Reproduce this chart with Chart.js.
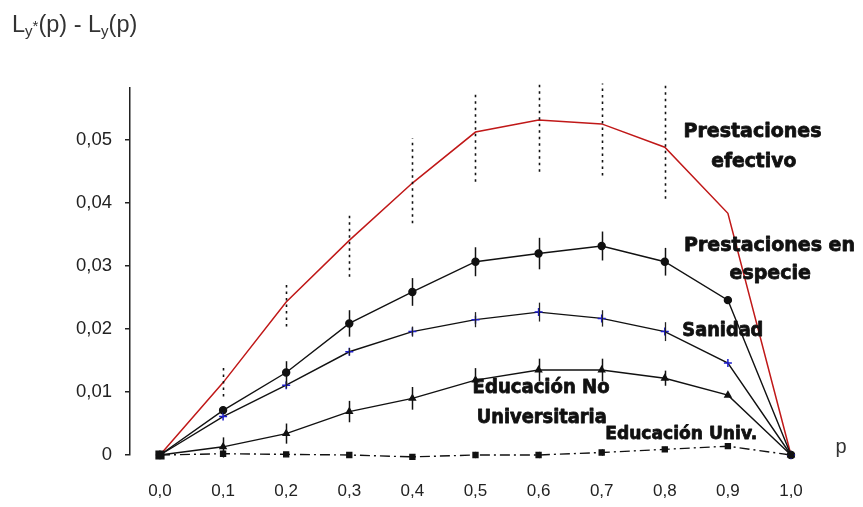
<!DOCTYPE html>
<html>
<head>
<meta charset="utf-8">
<script src="https://cdn.jsdelivr.net/npm/chart.js@4"></script>
<style>
  body { margin: 0; background: #fff; }
  canvas { display: block; }
</style>
</head>
<body>
<canvas id="curvas" width="863" height="507"></canvas>
<script>
// ---------- DATA ----------
const pVals = [0, 0.1, 0.2, 0.3, 0.4, 0.5, 0.6, 0.7, 0.8, 0.9, 1.0];
const yTicks = [0, 0.01, 0.02, 0.03, 0.04, 0.05];

const efectivo = [0, 0.0115, 0.0243, 0.0341, 0.0432, 0.0513, 0.0532, 0.0526, 0.0489, 0.0384, 0];
const efectivoLow = [null, 0.0093, 0.0204, 0.0283, 0.0368, 0.0434, 0.0450, 0.0444, 0.0407, null, null];
const efectivoHigh = [null, 0.0140, 0.0270, 0.0386, 0.0503, 0.0577, 0.0593, 0.0590, 0.0590, null, null];

const especie = [0, 0.0071, 0.0131, 0.0209, 0.0259, 0.0307, 0.0320, 0.0332, 0.0307, 0.0246, 0];
const especieErr = [null, 0.0006, 0.0018, 0.0021, 0.0022, 0.0023, 0.0025, 0.0023, 0.0022, null, null];

const sanidad = [0, 0.0061, 0.0111, 0.0164, 0.0196, 0.0215, 0.0227, 0.0217, 0.0196, 0.0146, 0];
const sanidadErr = [null, null, 0.0005, 0.0006, 0.0008, 0.0012, 0.0015, 0.0013, 0.0015, null, null];

const eduNoUniv = [0, 0.0013, 0.0034, 0.0069, 0.0090, 0.0119, 0.0135, 0.0135, 0.0122, 0.0095, 0];
const eduNoUnivErr = [null, 0.0015, 0.0016, 0.0017, 0.0018, 0.0019, 0.0018, 0.0018, 0.0012, null, null];

const eduUniv = [0, 0.0002, 0.0001, 0, -0.0003, 0, 0, 0.0004, 0.0009, 0.0014, 0];
const eduUnivErr = [null, 0.0006, null, null, 0.0004, 0.0005, 0.0005, 0.0005, 0.0004, null, null];

// ---------- HELPERS ----------
function toPoints(arr) {
  return pVals.map((p, i) => ({ x: p, y: arr[i] }));
}
function fmt(v) {
  return v === 0 ? "0" : v.toFixed(2).replace(".", ",");
}

// vertical error bars drawn through the chart scales
const errorBars = {
  id: "errorBars",
  afterDatasetsDraw(chart, args, opts) {
    const ctx = chart.ctx;
    const xs = chart.scales.x, ys = chart.scales.y;
    ctx.save();
    opts.bars.forEach(b => {
      ctx.strokeStyle = b.color;
      ctx.lineWidth = b.width;
      ctx.setLineDash(b.dash || []);
      pVals.forEach((p, i) => {
        let lo, hi;
        if (b.low) { lo = b.low[i]; hi = b.high[i]; }
        else if (b.err[i] != null) { lo = b.center[i] - b.err[i]; hi = b.center[i] + b.err[i]; }
        if (lo == null || hi == null) return;
        const px = Math.round(xs.getPixelForValue(p)) + 0.5;
        ctx.beginPath();
        ctx.moveTo(px, ys.getPixelForValue(lo));
        ctx.lineTo(px, ys.getPixelForValue(hi));
        ctx.stroke();
      });
    });
    ctx.restore();
  }
};

// series labels + axis titles
const textLabels = {
  id: "textLabels",
  afterDraw(chart, args, opts) {
    const ctx = chart.ctx;
    const xs = chart.scales.x, ys = chart.scales.y;
    ctx.save();
    ctx.fillStyle = "#111";
    ctx.strokeStyle = "#111";
    ctx.lineWidth = 0.8;
    ctx.lineJoin = "round";
    ctx.textAlign = "center";
    ctx.textBaseline = "middle";
    opts.labels.forEach(l => {
      ctx.font = "bold " + l.size + "px 'DejaVu Sans'";
      const px = xs.getPixelForValue(l.x), py = ys.getPixelForValue(l.y);
      ctx.fillText(l.text, px, py, l.maxW);
      ctx.strokeText(l.text, px, py, l.maxW);
    });

    // "p" at end of x axis
    ctx.fillStyle = "#333";
    ctx.font = "20px 'Liberation Sans'";
    ctx.textBaseline = "alphabetic";
    ctx.fillText("p", 841, 453);

    // y axis title: L_{y*}(p) - L_y(p)
    ctx.textAlign = "left";
    let x = 12;
    const base = 32;
    const big = "23.5px 'Liberation Sans'", small = "15px 'Liberation Sans'";
    const part = (t, f, dy) => { ctx.font = f; ctx.fillText(t, x, base + dy); x += ctx.measureText(t).width; };
    part("L", big, 0);
    part("y", small, 4);
    part("*", small, -1);
    part("(p) - L", big, 0);
    part("y", small, 4);
    part("(p)", big, 0);
    ctx.restore();
  }
};

// ---------- CHART ----------
const black = "#111";
const chart = new Chart(document.getElementById("curvas"), {
  type: "line",
  data: {
    datasets: [
      {
        label: "Educación Univ.",
        data: toPoints(eduUniv),
        borderColor: black, borderWidth: 1.4, borderDash: [10, 4, 2, 4],
        pointStyle: "rect",
        pointRadius: pVals.map((p, i) => i === 0 ? 5.5 : 3.5),
        pointBackgroundColor: black, pointBorderColor: black
      },
      {
        label: "Educación No Universitaria",
        data: toPoints(eduNoUniv),
        borderColor: black, borderWidth: 1.4,
        pointStyle: "triangle", pointRadius: 3.5,
        pointBackgroundColor: black, pointBorderColor: black
      },
      {
        label: "Sanidad",
        data: toPoints(sanidad),
        borderColor: black, borderWidth: 1.4,
        pointStyle: "cross", pointRadius: 4, pointBorderWidth: 1.5,
        pointBorderColor: "#1c1ccc"
      },
      {
        label: "Prestaciones en especie",
        data: toPoints(especie),
        borderColor: black, borderWidth: 1.4,
        pointStyle: "circle", pointRadius: 3.5,
        pointBackgroundColor: black, pointBorderColor: black
      },
      {
        label: "Prestaciones efectivo",
        data: toPoints(efectivo),
        borderColor: "#c01818", borderWidth: 1.5,
        pointRadius: 0
      }
    ]
  },
  options: {
    responsive: false,
    animation: false,
    clip: false,
    layout: { padding: { top: 88, right: 13, bottom: 0, left: 0 } },
    plugins: {
      legend: { display: false },
      tooltip: { enabled: false },
      errorBars: {
        bars: [
          { low: efectivoLow, high: efectivoHigh, color: "#111", width: 1.6, dash: [2.5, 4] },
          { center: especie, err: especieErr, color: "#111", width: 1.5 },
          { center: sanidad, err: sanidadErr, color: "#222", width: 1.3 },
          { center: eduNoUniv, err: eduNoUnivErr, color: "#111", width: 1.5 },
          { center: eduUniv, err: eduUnivErr, color: "#111", width: 1.3 }
        ]
      },
      textLabels: {
        labels: [
          { text: "Prestaciones", x: 0.939, y: 0.0513, size: 19, maxW: 140 },
          { text: "efectivo", x: 0.941, y: 0.0465, size: 19, maxW: 85 },
          { text: "Prestaciones en", x: 0.966, y: 0.0332, size: 19, maxW: 174 },
          { text: "especie", x: 0.967, y: 0.0287, size: 19, maxW: 86 },
          { text: "Sanidad", x: 0.892, y: 0.0197, size: 19, maxW: 81 },
          { text: "Educación No", x: 0.604, y: 0.0106, size: 19, maxW: 137 },
          { text: "Universitaria", x: 0.605, y: 0.0059, size: 19, maxW: 130 },
          { text: "Educación Univ.", x: 0.826, y: 0.0033, size: 18, maxW: 152 }
        ]
      }
    },
    scales: {
      x: {
        type: "linear",
        min: -0.0475, max: 1.0935,
        afterBuildTicks: s => { s.ticks = pVals.map(v => ({ value: v })); },
        afterFit: s => { s.height = 52; },
        grid: { display: false, drawTicks: false },
        border: { display: false },
        ticks: {
          padding: 26,
          color: "#222",
          font: { family: "'Liberation Sans Narrow', 'Liberation Sans'", size: 17 },
          callback: v => v.toFixed(1).replace(".", ",")
        }
      },
      y: {
        type: "linear",
        min: 0, max: 0.0583,
        afterBuildTicks: s => { s.ticks = yTicks.map(v => ({ value: v })); },
        afterFit: s => { s.width = 130; },
        grid: { drawOnChartArea: false, drawTicks: true, tickLength: 5, color: "#222", lineWidth: 1.5 },
        border: { display: true, color: "#222", width: 1.5 },
        ticks: {
          padding: 13,
          color: "#222",
          font: { family: "'Liberation Sans'", size: 18.5 },
          callback: v => fmt(v)
        }
      }
    }
  },
  plugins: [errorBars, textLabels]
});
</script>
</body>
</html>
